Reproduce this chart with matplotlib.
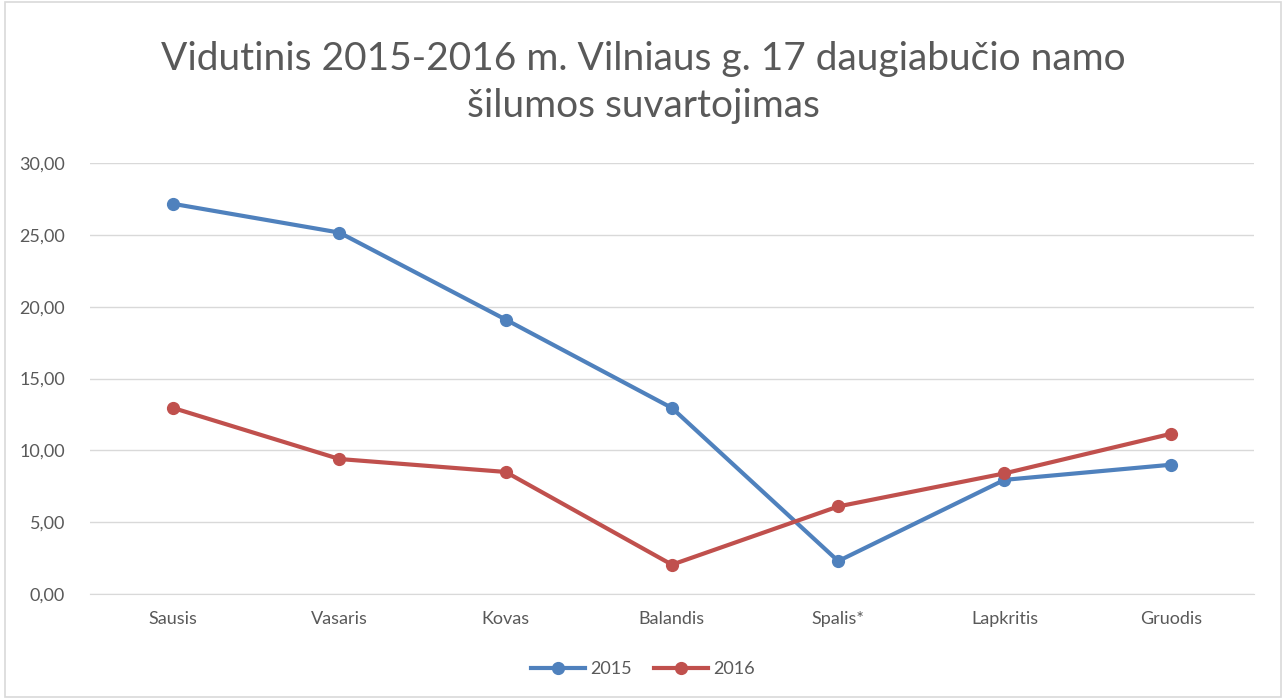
import matplotlib
matplotlib.use('Agg')
import matplotlib.pyplot as plt
from matplotlib.patches import Rectangle

months = ['Sausis', 'Vasaris', 'Kovas', 'Balandis', 'Spalis*', 'Lapkritis', 'Gruodis']
y2015 = [27.15, 25.15, 19.1, 12.95, 2.3, 7.95, 9.0]
y2016 = [12.95, 9.4, 8.5, 2.05, 6.1, 8.4, 11.15]
yticks = [0, 5, 10, 15, 20, 25, 30]

plt.rcParams['font.family'] = ['Lato', 'DejaVu Sans']
txt = '#595959'

fig = plt.figure(figsize=(12.86, 6.99), dpi=100)
fig.patches.append(Rectangle((0.004, 0.003), 0.992, 0.994, transform=fig.transFigure,
                             fill=False, edgecolor='#D9D9D9', linewidth=1.2))
ax = fig.add_axes([0.070, 0.150, 0.905, 0.617])

x = list(range(len(months)))
ax.plot(x, y2015, color='#4F81BD', lw=3, marker='o', ms=8.5, label='2015', zorder=3)
ax.plot(x, y2016, color='#C0504D', lw=3, marker='o', ms=8.5, label='2016', zorder=3)

ax.set_xlim(-0.5, len(months) - 0.5)
ax.set_ylim(0, 30)
ax.set_yticks(yticks)
ax.set_yticklabels(['%d,00' % v for v in yticks])
ax.set_xticks(x)
ax.set_xticklabels(months)
ax.grid(axis='y', color='#D9D9D9', lw=1)
ax.set_axisbelow(True)
for s in ['top', 'right', 'left']:
    ax.spines[s].set_visible(False)
ax.spines['bottom'].set_color('#D9D9D9')
ax.tick_params(length=0, labelsize=13, colors=txt)
ax.tick_params(axis='y', pad=18)
ax.tick_params(axis='x', pad=12)

fig.text(0.5, 0.882, 'Vidutinis 2015-2016 m. Vilniaus g. 17 daugiabučio namo\nšilumos suvartojimas',
         ha='center', va='center', fontsize=28, color=txt, linespacing=1.35)

fig.legend(loc='center', bbox_to_anchor=(0.5, 0.043), ncol=2, frameon=False,
           fontsize=13, labelcolor=txt, handlelength=3, columnspacing=1.2, handletextpad=0.3)

fig.savefig('out.png', dpi=100)
